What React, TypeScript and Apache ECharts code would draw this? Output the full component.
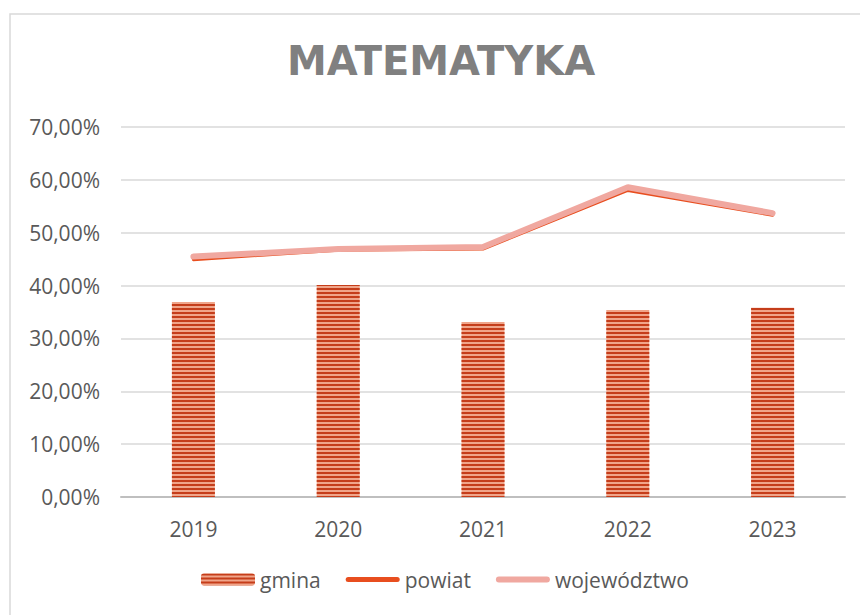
import React, { useEffect, useRef } from "react";
import * as echarts from "echarts";

const title = "MATEMATYKA";
const categories = ["2019", "2020", "2021", "2022", "2023"];
const gmina = [0.369, 0.401, 0.331, 0.354, 0.358];
const powiat = [0.449, 0.467, 0.469, 0.580, 0.533];
const wojewodztwo = [0.455, 0.469, 0.473, 0.586, 0.537];
const seriesNames = ["gmina", "powiat", "województwo"];

const fmt = (v: number) => (v * 100).toFixed(2).replace(".", ",") + "%";

const lineIcon = (h: number) => {
  const t = (12 - h) / 2;
  const b = t + h;
  const r = h / 2;
  return `path://M0,0 L0,0 M54,12 L54,12 M${r},${t} L${54 - r},${t} A${r},${r} 0 0 1 ${54 - r},${b} L${r},${b} A${r},${r} 0 0 1 ${r},${t} Z`;
};

export default function App() {
  const ref = useRef<HTMLDivElement>(null);
  useEffect(() => {
    if (!ref.current) return;
    const chart = echarts.init(ref.current, undefined, { renderer: "svg" });
    const font = "'Open Sans', sans-serif";
    chart.setOption({
      animation: false,
      backgroundColor: "#ffffff",
      title: {
        text: title,
        left: 282,
        top: 36,
        textStyle: {
          fontFamily: "'DejaVu Sans', sans-serif",
          fontWeight: "bold",
          fontSize: 40,
          color: "#808080",
        },
      },
      graphic: [
        {
          type: "rect",
          shape: { x: 10, y: 14, width: 870, height: 620 },
          style: { fill: "none", stroke: "#d9d9d9", lineWidth: 1.5 },
          silent: true,
        },
      ],
      legend: {
        bottom: 20,
        left: 196,
        itemGap: 25,
        itemWidth: 54,
        itemHeight: 12,
        textStyle: { fontFamily: font, fontSize: 21, color: "#595959" },
        data: [
          { name: seriesNames[0] },
          { name: seriesNames[1], icon: lineIcon(5), itemStyle: { color: "#e84e1f" } },
          { name: seriesNames[2], icon: lineIcon(6), itemStyle: { color: "#f0a8a0" } },
        ],
      },
      grid: { left: 121, right: 15, top: 127, bottom: 118 },
      xAxis: {
        type: "category",
        data: categories,
        axisTick: { show: false },
        axisLine: { lineStyle: { color: "#bfbfbf", width: 2 } },
        axisLabel: { fontFamily: font, fontSize: 21, color: "#595959", margin: 21 },
      },
      yAxis: {
        type: "value",
        min: 0,
        max: 0.7,
        interval: 0.1,
        axisLabel: { fontFamily: font, fontSize: 21, color: "#595959", margin: 21, formatter: fmt },
        splitLine: { lineStyle: { color: "#d9d9d9", width: 1.5 } },
        axisLine: { show: false },
        axisTick: { show: false },
      },
      series: [
        {
          name: seriesNames[0],
          type: "bar",
          data: gmina,
          barWidth: 43,
          itemStyle: {
            color: "#f0a58a",
            decal: {
              symbol: "rect",
              color: "#c53d1a",
              dashArrayX: [1, 0],
              dashArrayY: [1.6, 1.9],
              symbolSize: 1,
              rotation: 0,
            },
          },
        },
        {
          name: seriesNames[1],
          type: "line",
          data: powiat,
          symbol: "none",
          lineStyle: { color: "#e84e1f", width: 3, cap: "round" },
          itemStyle: { color: "#e84e1f" },
        },
        {
          name: seriesNames[2],
          type: "line",
          data: wojewodztwo,
          symbol: "none",
          lineStyle: { color: "#f0a8a0", width: 6, cap: "round" },
          itemStyle: { color: "#f0a8a0" },
        },
      ],
    });
    return () => chart.dispose();
  }, []);
  return (
    <div
      ref={ref}
      style={{ position: "absolute", left: 0, top: 0, width: 860, height: 615 }}
    />
  );
}
